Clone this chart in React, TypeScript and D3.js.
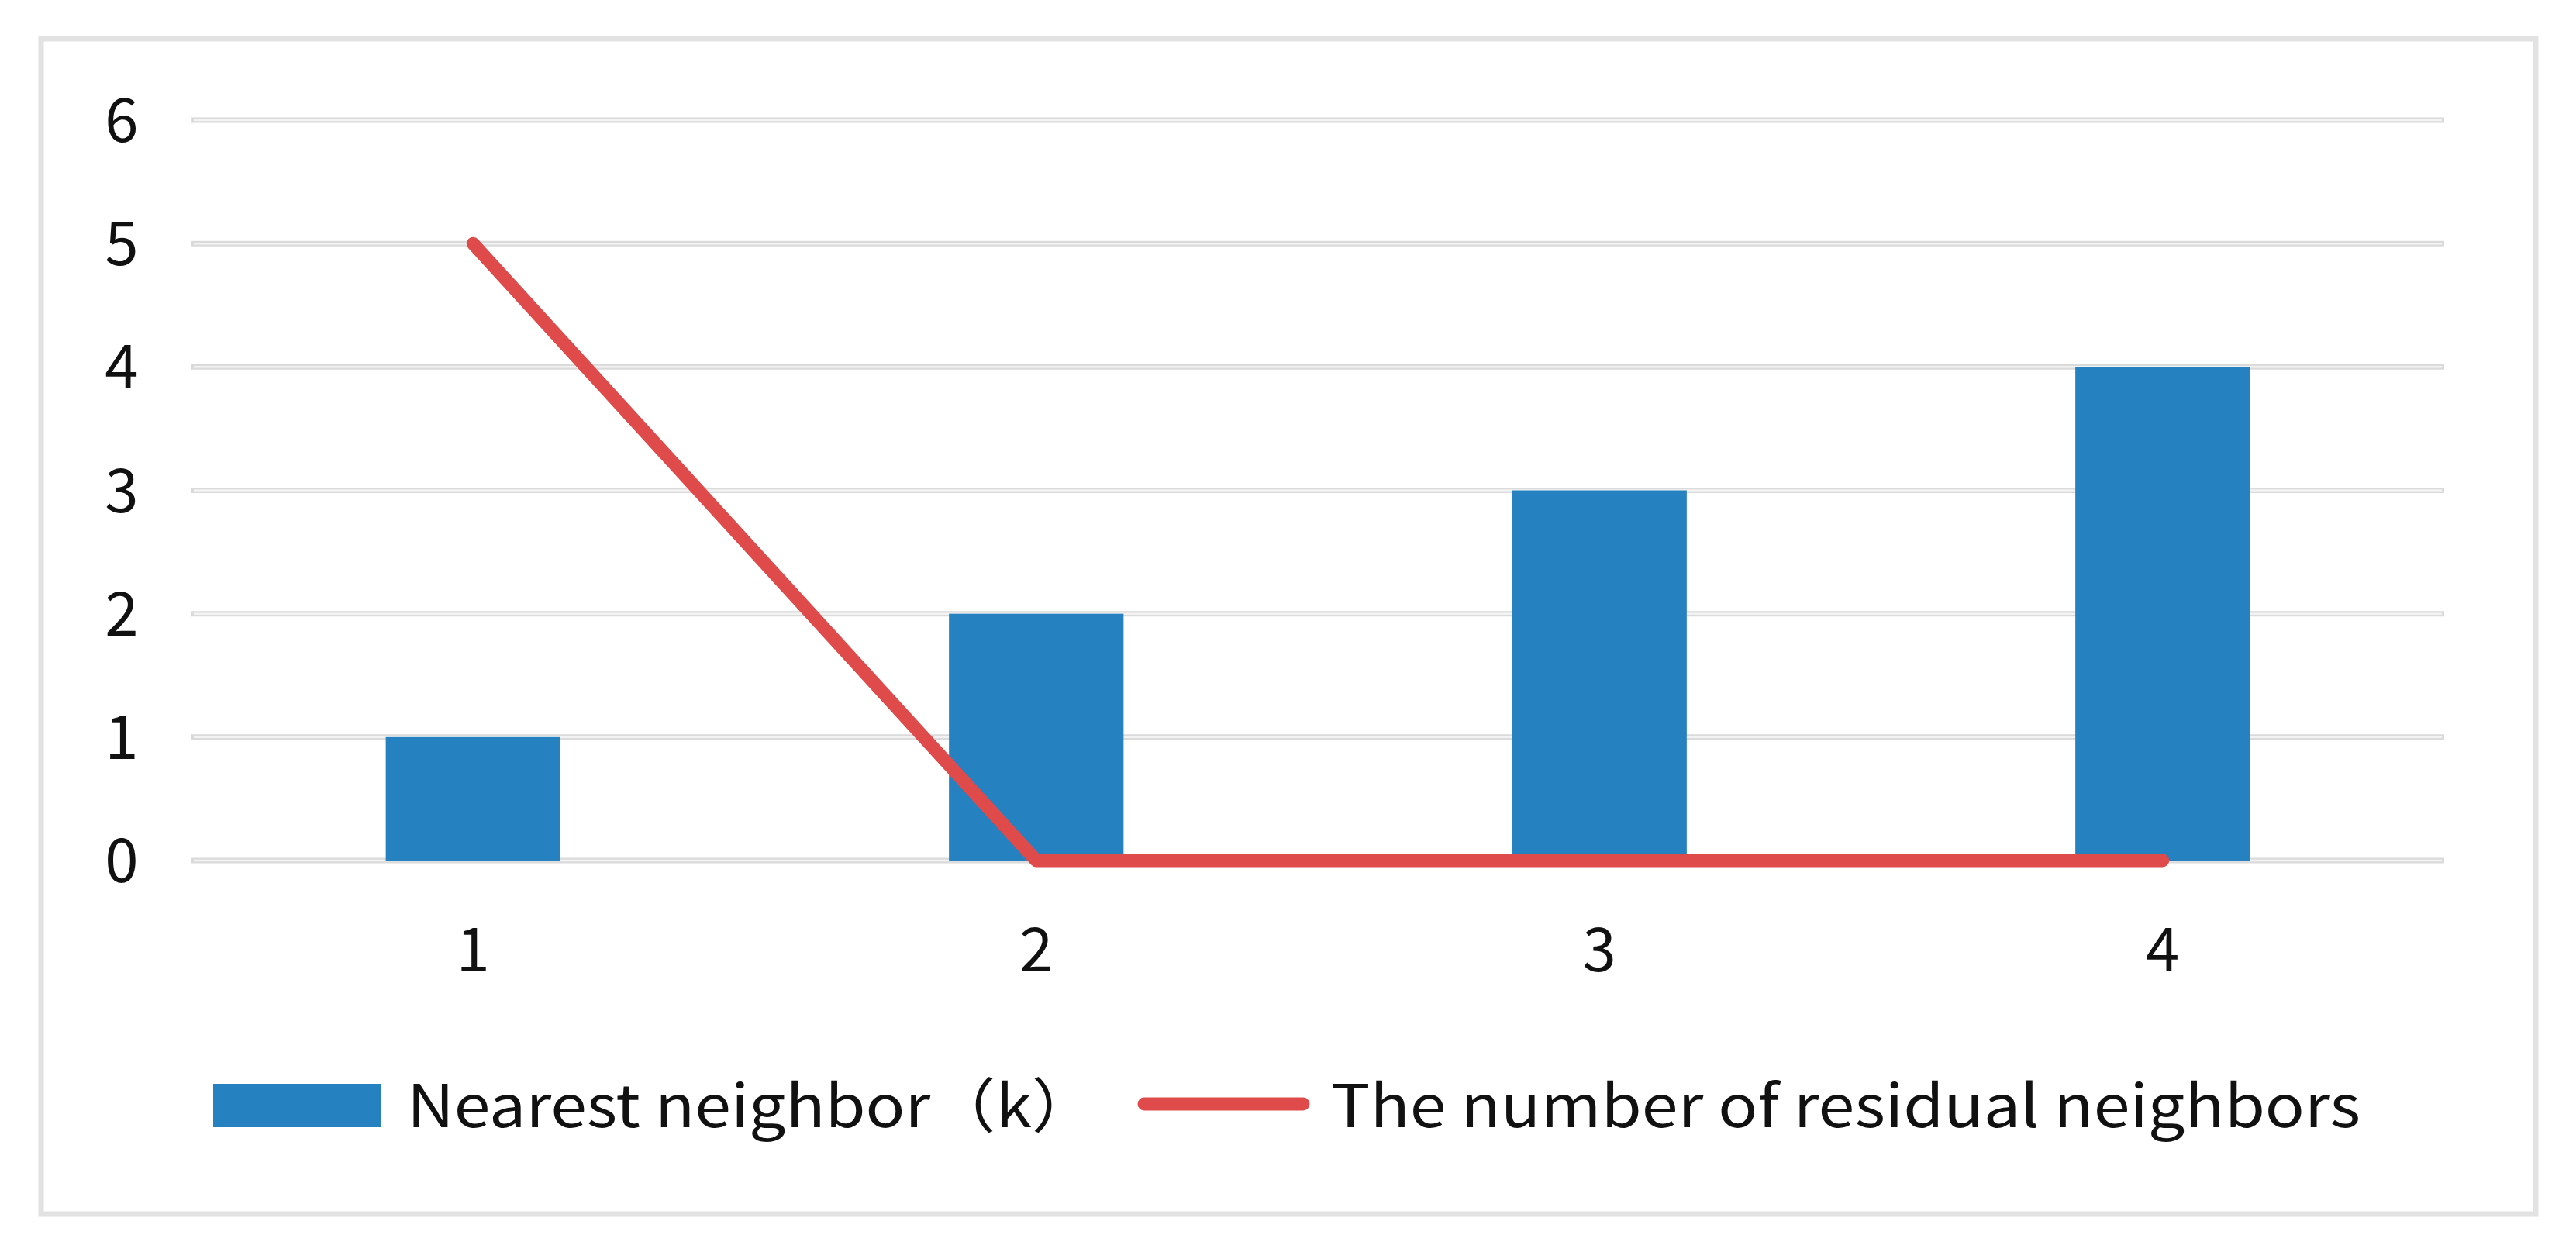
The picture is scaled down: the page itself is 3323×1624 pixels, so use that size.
import * as d3 from 'd3';

const categories = ['1', '2', '3', '4'];
const nearestNeighbor = [1, 2, 3, 4];
const residualNeighbors = [5, 0, 0, 0];
const yTicks = [0, 1, 2, 3, 4, 5, 6];
const legendLabels = ['Nearest neighbor（k）', 'The number of residual neighbors'];

const W = 3323;
const H = 1624;
const plot = { left: 247, right: 3153, top: 155, bottom: 1110 };
const font = '"Noto Sans CJK SC", "Open Sans", sans-serif';
const barColor = '#2681c1';
const lineColor = '#df4b4b';

export default function App() {
  const x = d3.scaleBand<string>()
    .domain(categories)
    .range([plot.left, plot.right])
    .paddingInner(0.69)
    .paddingOuter(0.345);

  const y = d3.scaleLinear()
    .domain([0, 6])
    .range([plot.bottom, plot.top]);

  const cx = (c: string) => (x(c) ?? 0) + x.bandwidth() / 2;

  const line = d3.line<number>()
    .x((_, i) => cx(categories[i]))
    .y(d => y(d));

  return (
    <svg
      width={W}
      height={H}
      style={{ position: 'absolute', left: 0, top: 0, background: '#fff' }}
      fontFamily={font}
    >
      {/* outer frame */}
      <rect x={53} y={50} width={3218} height={1516} fill="#fff" stroke="#e2e2e2" strokeWidth={7} />

      {/* grid lines */}
      {yTicks.map(t => (
        <g key={t}>
          <line x1={plot.left} x2={plot.right} y1={y(t)} y2={y(t)} stroke="#dadada" strokeWidth={7} />
          <line x1={plot.left + 3} x2={plot.right - 3} y1={y(t)} y2={y(t)} stroke="#f3f3f3" strokeWidth={2.5} />
        </g>
      ))}

      {/* y tick labels */}
      {yTicks.map(t => (
        <text key={t} x={157} y={y(t)} dy="0.36em" textAnchor="middle" fontSize={78} fill="#111">
          {t}
        </text>
      ))}

      {/* bars */}
      {categories.map((c, i) => (
        <rect
          key={c}
          x={x(c)}
          y={y(nearestNeighbor[i])}
          width={x.bandwidth()}
          height={y(0) - y(nearestNeighbor[i])}
          fill={barColor}
        />
      ))}

      {/* line series */}
      <path
        d={line(residualNeighbors) ?? ''}
        fill="none"
        stroke={lineColor}
        strokeWidth={17}
        strokeLinecap="round"
        strokeLinejoin="round"
      />

      {/* x tick labels */}
      {categories.map(c => (
        <text key={c} x={cx(c)} y={1225} dy="0.36em" textAnchor="middle" fontSize={78} fill="#111">
          {c}
        </text>
      ))}

      {/* legend */}
      <rect x={275} y={1398} width={217} height={56} fill={barColor} />
      <text x={525} y={1454} fontSize={76} fill="#111" textLength={890} lengthAdjust="spacingAndGlyphs">
        {legendLabels[0]}
      </text>
      <line x1={1476} x2={1681} y1={1424} y2={1424} stroke={lineColor} strokeWidth={17} strokeLinecap="round" />
      <text x={1717} y={1454} fontSize={76} fill="#111" textLength={1328} lengthAdjust="spacingAndGlyphs">
        {legendLabels[1]}
      </text>
    </svg>
  );
}
